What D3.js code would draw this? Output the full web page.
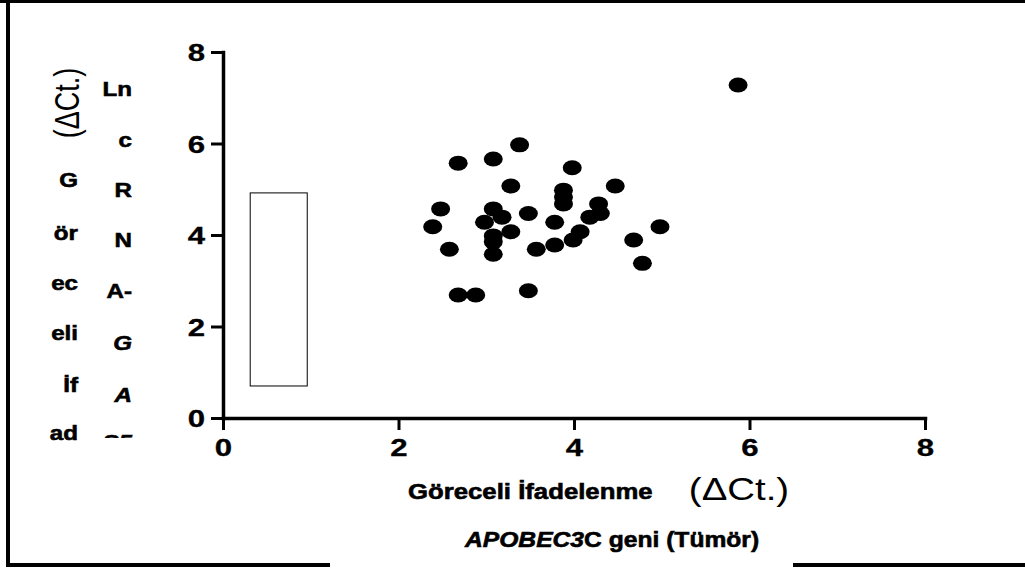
<!DOCTYPE html>
<html>
<head>
<meta charset="utf-8">
<script src="https://cdn.jsdelivr.net/npm/d3@7"></script>
<style>
  html, body { margin: 0; padding: 0; background: #fff; }
  svg { display: block; }
  text { font-family: "Liberation Sans", Arial, Helvetica, sans-serif; fill: #000; }
</style>
</head>
<body>
<svg id="chart" width="1025" height="570"></svg>
<script>
// ---- data ----
const xTicks = [0, 2, 4, 6, 8];
const yTicks = [0, 2, 4, 6, 8];
const xValues = [2.39, 2.48, 2.58, 2.68, 2.68, 2.88, 2.98, 3.08, 3.08, 3.08, 3.08, 3.08, 3.18, 3.28, 3.28, 3.38, 3.48, 3.48, 3.57, 3.78, 3.78, 3.88, 3.88, 3.88, 3.98, 3.99, 4.07, 4.18, 4.28, 4.30, 4.47, 4.68, 4.78, 4.98, 5.87];
const yValues = [4.18, 4.57, 3.69, 5.57, 2.69, 2.69, 4.28, 5.66, 4.57, 3.98, 3.85, 3.58, 4.39, 5.07, 4.07, 5.97, 4.47, 2.78, 3.69, 4.28, 3.78, 4.98, 4.83, 4.68, 5.47, 3.89, 4.07, 4.39, 4.68, 4.47, 5.07, 3.89, 3.38, 4.18, 7.28];
const boxX = [0.31, 0.96];
const boxY = [0.70, 4.92];
const yLabelCol1 = ["G", "ör", "ec", "eli", "İf", "ad"];
const yLabelCol2 = ["Ln", "c", "R", "N", "A-", "G", "A", "S5"];
const col2Italic = [false, false, false, false, false, true, true, true];
const xLabelMain = "Göreceli İfadelenme";
const unitLabel = "(ΔCt.)";
const geneItalic = "APOBEC3";
const geneRest = "C geni (Tümör)";

// ---- drawing ----
const svg = d3.select("#chart");
const W = 1025, H = 570;
svg.append("rect").attr("width", W).attr("height", H).attr("fill", "#fff");

// outer frame
svg.append("rect").attr("x", 0).attr("y", 0).attr("width", W).attr("height", 3).attr("fill", "#000");
svg.append("rect").attr("x", 6).attr("y", 0).attr("width", 4).attr("height", 567).attr("fill", "#000");
svg.append("rect").attr("x", 6).attr("y", 563).attr("width", 324).attr("height", 4).attr("fill", "#000");
svg.append("rect").attr("x", 793).attr("y", 563).attr("width", W - 793).attr("height", 4).attr("fill", "#000");

const x = d3.scaleLinear().domain([0, 8]).range([223, 925]);
const y = d3.scaleLinear().domain([0, 8]).range([418, 52]);

const gx = svg.append("g").attr("transform", `translate(0,${y(0)})`)
  .call(d3.axisBottom(x).tickValues(xTicks).tickSize(12).tickSizeOuter(0).tickFormat(d3.format("d")));
const gy = svg.append("g").attr("transform", `translate(${x(0)},0)`)
  .call(d3.axisLeft(y).tickValues(yTicks).tickSize(12).tickSizeOuter(0).tickFormat(d3.format("d")));
[gx, gy].forEach(g => {
  g.selectAll("path.domain").attr("stroke", "#000").attr("stroke-width", 3.5).attr("stroke-linecap", "square");
  g.selectAll(".tick line").attr("stroke", "#000").attr("stroke-width", 3);
  g.selectAll(".tick text").attr("font-size", 24).attr("font-weight", "bold")
    .attr("font-family", "'Liberation Sans', Arial, sans-serif").attr("fill", "#000")
    .attr("stroke", "#000").attr("stroke-width", 0.3);
});
gx.selectAll(".tick text").attr("x", null).attr("y", null).attr("dy", null)
  .attr("transform", `translate(0,38) scale(1.3,1)`);
gy.selectAll(".tick text").attr("x", null).attr("dy", "0.36em")
  .attr("transform", `translate(-18,0) scale(1.3,1)`);

// box
svg.append("rect")
  .attr("x", x(boxX[0])).attr("y", y(boxY[1]))
  .attr("width", x(boxX[1]) - x(boxX[0])).attr("height", y(boxY[0]) - y(boxY[1]))
  .attr("fill", "#fff").attr("stroke", "#000").attr("stroke-width", 1);

// points
const pts = xValues.map((v, i) => ({ x: v, y: yValues[i] }));
svg.append("g").selectAll("ellipse").data(pts).join("ellipse")
  .attr("cx", d => x(d.x)).attr("cy", d => y(d.y))
  .attr("rx", 9.5).attr("ry", 7.5).attr("fill", "#000");

// y label: rotated unit
svg.append("text")
  .attr("transform", "translate(79,103) scale(1.3,1) rotate(-90)")
  .attr("text-anchor", "middle").attr("font-size", 27)
  .text(unitLabel);

// y label columns
const col1Base = [187, 240, 290, 340, 392, 440];
svg.append("g").selectAll("text").data(yLabelCol1).join("text")
  .attr("transform", (d, i) => `translate(78,${col1Base[i]}) scale(1.15,1)`)
  .attr("text-anchor", "end").attr("font-size", 21).attr("font-weight", "bold")
  .attr("stroke", "#000").attr("stroke-width", 0.6)
  .text(d => d);

svg.append("clipPath").attr("id", "col2clip")
  .append("rect").attr("x", 90).attr("y", 60).attr("width", 60).attr("height", 378);
const col2Base = [96, 147, 197, 247, 298, 350, 402, 449];
svg.append("g").attr("clip-path", "url(#col2clip)").selectAll("text").data(yLabelCol2).join("text")
  .attr("transform", (d, i) => `translate(132,${col2Base[i]}) scale(1.15,1)`)
  .attr("text-anchor", "end").attr("font-size", 21).attr("font-weight", "bold")
  .attr("font-style", (d, i) => col2Italic[i] ? "italic" : "normal")
  .attr("stroke", "#000").attr("stroke-width", 0.6)
  .text(d => d);

// x label
svg.append("text").attr("transform", `translate(408,499) scale(1.17,1)`)
  .attr("font-size", 22).attr("font-weight", "bold")
  .attr("stroke", "#000").attr("stroke-width", 0.6).text(xLabelMain);
svg.append("text").attr("transform", `translate(739,500) scale(1.2,1)`)
  .attr("text-anchor", "middle").attr("font-size", 32).text(unitLabel);

const gene = svg.append("text").attr("transform", `translate(465,547) scale(1.12,1)`)
  .attr("font-size", 22).attr("font-weight", "bold")
  .attr("stroke", "#000").attr("stroke-width", 0.6);
gene.append("tspan").attr("font-style", "italic").text(geneItalic);
gene.append("tspan").text(geneRest);
</script>
</body>
</html>
